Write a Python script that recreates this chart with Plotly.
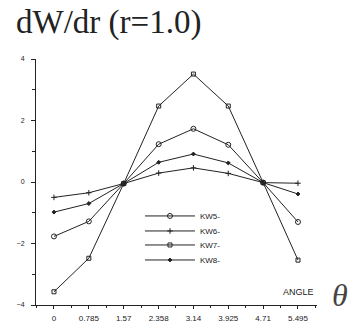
import plotly.graph_objects as go

angles = [0, 0.785, 1.57, 2.358, 3.14, 3.925, 4.71, 5.495]
tick_labels = ["0", "0.785", "1.57", "2.358", "3.14", "3.925", "4.71", "5.495"]

kw5 = [-1.77, -1.28, -0.05, 1.23, 1.73, 1.21, -0.02, -1.30]
kw6 = [-0.50, -0.35, -0.05, 0.29, 0.46, 0.28, -0.02, -0.04]
kw7 = [-3.57, -2.48, -0.05, 2.47, 3.51, 2.47, -0.02, -2.54]
kw8 = [-0.98, -0.70, -0.05, 0.64, 0.91, 0.62, -0.02, -0.39]

series = [
    ("KW5-", kw5, "circle-open", 5),
    ("KW6-", kw6, "cross-thin-open", 4),
    ("KW7-", kw7, "square-open", 4),
    ("KW8-", kw8, "diamond", 3),
]

ink = "#222222"
legend_ids = ["legend", "legend2", "legend3", "legend4"]
legend_y = [0.362, 0.301, 0.244, 0.183]

fig = go.Figure()
for (name, vals, sym, sz), lid in zip(series, legend_ids):
    fig.add_trace(go.Scatter(
        x=angles, y=vals, name=name, mode="lines+markers", legend=lid,
        line=dict(color=ink, width=1),
        marker=dict(symbol=sym, size=sz, color=ink, line=dict(color=ink, width=1)),
    ))

legend_common = dict(x=0.37, xanchor="left", yanchor="middle",
                     bgcolor="rgba(0,0,0,0)", borderwidth=0,
                     font=dict(size=8, color=ink), itemwidth=50)
layout_legends = {lid: dict(y=ly, **legend_common) for lid, ly in zip(legend_ids, legend_y)}

fig.update_layout(
    width=350, height=323,
    margin=dict(l=36, r=33, t=59, b=18, autoexpand=False),
    paper_bgcolor="white", plot_bgcolor="white",
    font=dict(family="Liberation Sans", size=8, color=ink),
    showlegend=True,
    xaxis=dict(range=[-0.405, 5.923], showgrid=False, zeroline=False,
               showline=True, linecolor=ink, linewidth=1, automargin=False,
               tickvals=angles, ticktext=tick_labels,
               ticks="outside", ticklen=3, tickcolor=ink,
               ticklabelstandoff=2,
               minor=dict(tick0=0, dtick=0.3925, ticks="outside", ticklen=2, tickcolor=ink),
               tickfont=dict(size=8)),
    yaxis=dict(range=[-4, 4], showgrid=False, zeroline=False,
               showline=True, linecolor=ink, linewidth=1, automargin=False,
               tickvals=[-4, -2, 0, 2, 4],
               ticks="outside", ticklen=4, tickcolor=ink,
               ticklabelstandoff=5,
               minor=dict(dtick=1, ticks="outside", ticklen=3, tickcolor=ink),
               tickfont=dict(size=7)),
    **layout_legends,
)

fig.add_annotation(text="dW/dr (r=1.0)", xref="paper", yref="paper",
                   x=-0.078, y=1.15, xanchor="left", yanchor="middle",
                   showarrow=False,
                   font=dict(family="Liberation Serif", size=33, color=ink))
fig.add_annotation(text="ANGLE", xref="paper", yref="paper",
                   x=0.996, y=0.053, xanchor="right", yanchor="middle",
                   showarrow=False, font=dict(size=9, color=ink))
fig.add_annotation(text="<i>θ</i>", xref="paper", yref="paper",
                   x=1.082, y=0.04, xanchor="center", yanchor="middle",
                   showarrow=False,
                   font=dict(family="Liberation Serif", size=32, color="#444444"))

fig.write_html("out.html", config={"displayModeBar": False},
               post_script="document.body.style.margin='0';")
